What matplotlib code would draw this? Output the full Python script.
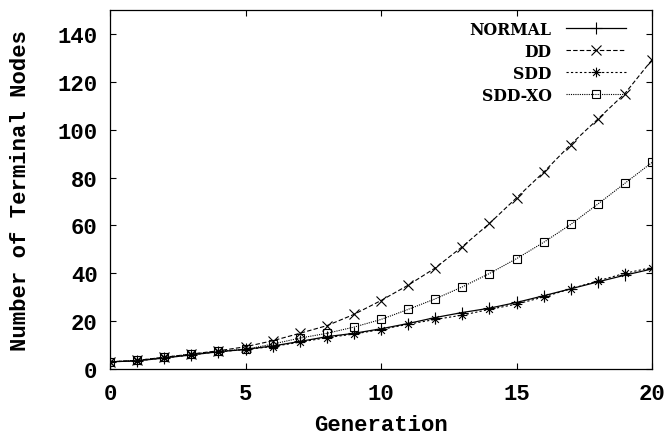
import matplotlib
matplotlib.use("Agg")
import matplotlib.pyplot as plt
from matplotlib.path import Path

generations = list(range(21))
normal = [3.0, 3.4, 4.6, 5.9, 7.2, 8.2, 9.6, 11.5, 13.5, 14.9, 16.8, 19.0, 21.5, 23.6, 25.4, 27.8, 30.6, 33.5, 36.4, 39.2, 41.8]
dd = [3.0, 3.6, 4.9, 6.25, 7.6, 9.3, 11.8, 14.9, 18.1, 22.8, 28.6, 35.0, 42.2, 51.1, 60.8, 71.5, 82.2, 93.8, 104.4, 115.1, 129.2]
sdd = [3.0, 3.4, 4.6, 5.9, 7.2, 8.1, 9.4, 11.2, 13.1, 14.6, 16.5, 18.7, 20.7, 22.5, 24.9, 27.1, 30.1, 33.5, 36.8, 40.0, 42.4]
sdd_xo = [3.0, 3.6, 4.9, 6.2, 7.5, 8.2, 10.4, 12.9, 14.9, 17.5, 20.7, 24.9, 29.3, 34.3, 39.9, 46.1, 52.9, 60.4, 68.9, 77.6, 86.3]
labels = ["NORMAL", "DD", "SDD", "SDD-XO"]
x_ticks = [0, 5, 10, 15, 20]
y_ticks = [0, 20, 40, 60, 80, 100, 120, 140]

# gnuplot-style star marker (+ overlaid with x)
star = Path([(-1, 0), (1, 0), (0, -1), (0, 1), (-0.7, -0.7), (0.7, 0.7), (-0.7, 0.7), (0.7, -0.7)],
            [Path.MOVETO, Path.LINETO, Path.MOVETO, Path.LINETO,
             Path.MOVETO, Path.LINETO, Path.MOVETO, Path.LINETO])

fig = plt.figure(figsize=(6.67, 4.39), dpi=100)
ax = fig.add_axes([110/667, 1-370/439, (652-110)/667, (370-11)/439])

mono = {"family": "Liberation Mono", "weight": "bold", "size": 16}

ax.plot(generations, normal, color="black", lw=0.9, ls="-", marker="+", ms=8, mew=0.8, label=labels[0])
ax.plot(generations, dd, color="black", lw=0.8, ls=(0, (4, 2)), marker="x", ms=7, mew=0.8, label=labels[1])
ax.plot(generations, sdd, color="black", lw=0.8, ls=(0, (2, 2)), marker=star, ms=7, mew=0.8, label=labels[2])
ax.plot(generations, sdd_xo, color="black", lw=0.8, ls=(0, (1, 1)), marker="s", ms=5.5, mew=0.8,
        mfc="none", label=labels[3])

ax.set_xlim(0, 20)
ax.set_ylim(0, 150)
ax.set_xticks(x_ticks)
ax.set_yticks(y_ticks)
ax.set_xticklabels([str(v) for v in x_ticks], fontdict=mono)
ax.set_yticklabels([str(v) for v in y_ticks], fontdict=mono)
ax.tick_params(axis="y", direction="in", left=True, right=True, length=4, width=0.8, pad=9)
ax.tick_params(axis="x", direction="in", top=True, bottom=True, length=4, width=0.8, pad=10)
for s in ax.spines.values():
    s.set_linewidth(0.9)

ax.set_xlabel("Generation", fontdict=mono, labelpad=7)
ax.set_ylabel("Number of Terminal Nodes", fontdict=mono, labelpad=19)

leg = ax.legend(loc="upper right", bbox_to_anchor=(0.952, 0.97), frameon=False, markerfirst=False,
                prop={"family": "DejaVu Serif", "weight": "bold", "size": 11.3},
                handlelength=3.8, handletextpad=0.95, labelspacing=0.32, borderpad=0, borderaxespad=0)
for t in leg.get_texts():
    t.set_ha("right")

fig.savefig("out.png", dpi=100)
